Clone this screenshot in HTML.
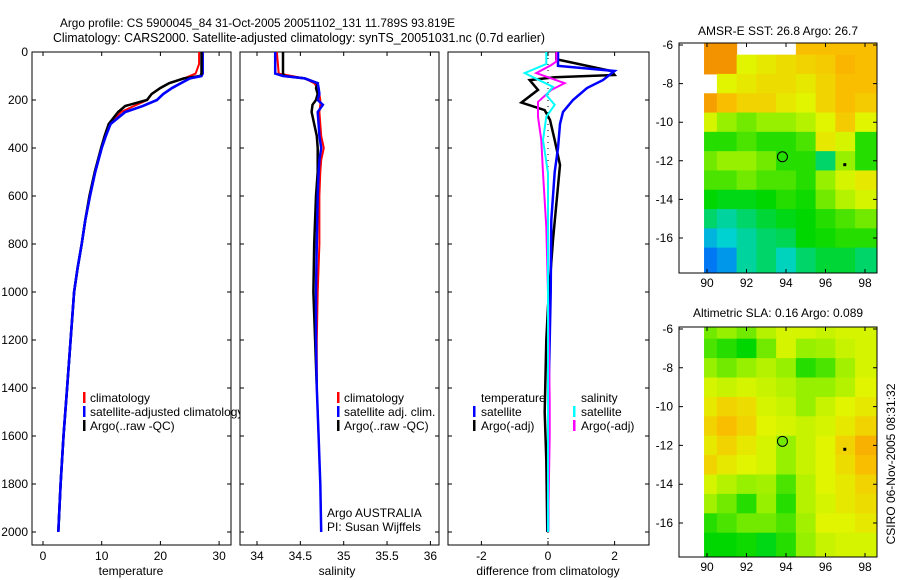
<!DOCTYPE html>
<html><head><meta charset="utf-8"><title>Argo profile</title>
<style>
html,body{margin:0;padding:0;background:#fff;}
svg{display:block;font-family:"Liberation Sans",sans-serif;}
text{font-size:12px;fill:#000;}
</style></head>
<body>
<svg id="fig" width="900" height="580" viewBox="0 0 900 580">
<rect x="0" y="0" width="900" height="580" fill="#fff"/>
<text x="60" y="27" style="font-size:12px" textLength="395" lengthAdjust="spacingAndGlyphs">Argo profile: CS 5900045_84 31-Oct-2005 20051102_131 11.789S 93.819E</text>
<text x="53" y="42" style="font-size:12.5px" textLength="492" lengthAdjust="spacingAndGlyphs">Climatology: CARS2000. Satellite-adjusted climatology: synTS_20051031.nc (0.7d earlier)</text>
<text x="778" y="35" text-anchor="middle">AMSR-E SST: 26.8 Argo: 26.7</text>
<text x="778" y="317" text-anchor="middle">Altimetric SLA: 0.16 Argo: 0.089</text>
<text transform="translate(895,464) rotate(-90)" text-anchor="middle">CSIRO 06-Nov-2005 08:31:32</text>
<defs>
<clipPath id="cp1"><rect x="32" y="52" width="199" height="493"/></clipPath>
<clipPath id="cp2"><rect x="240" y="52" width="199" height="493"/></clipPath>
<clipPath id="cp3"><rect x="448" y="52" width="201" height="493"/></clipPath>
<clipPath id="cm1"><rect x="679" y="43" width="198" height="230"/></clipPath>
<clipPath id="cm2"><rect x="679" y="327" width="198" height="230"/></clipPath>
</defs>
</svg>
<script>
// ---- temperature profile data ----
const tDepth = [0,50,90,100,110,130,150,175,200,225,250,300,350,400,500,600,700,800,900,1000,1200,1400,1600,1800,2000];
const tClim  = [26.6,26.6,26.0,25.0,24.0,21.5,20.0,18.5,17.8,15.5,13.3,11.4,10.6,9.9,8.8,7.9,7.2,6.6,5.9,5.3,4.7,4.1,3.5,3.0,2.6];
const tSat   = [27.2,27.2,27.2,27.0,25.0,23.5,22.0,20.5,19.4,17.0,14.0,11.5,10.7,10.0,8.9,8.0,7.2,6.6,5.9,5.3,4.7,4.1,3.5,3.0,2.6];
const tArgo  = [27.0,27.0,27.0,26.8,24.0,21.5,20.0,18.5,17.7,14.0,12.8,11.2,10.5,9.9,8.8,7.9,7.2,6.6,5.9,5.3,4.7,4.1,3.5,3.0,2.6];
// ---- salinity profile data ----
const sDepth = [0,90,100,110,130,150,175,200,220,250,300,350,400,450,500,600,800,1000,1200,1400,1600,1800,2000];
const sClim  = [34.23,34.25,34.40,34.55,34.66,34.70,34.72,34.73,34.73,34.72,34.73,34.74,34.77,34.74,34.73,34.72,34.72,34.70,34.69,34.69,34.71,34.72,34.74];
const sSat   = [34.21,34.21,34.30,34.55,34.70,34.71,34.72,34.70,34.76,34.70,34.71,34.72,34.74,34.72,34.71,34.70,34.69,34.68,34.68,34.69,34.71,34.73,34.74];
const sArgo  = [34.30,34.30,34.32,34.55,34.70,34.68,34.70,34.68,34.64,34.63,34.66,34.69,34.70,34.70,34.70,34.68,34.66,34.65,34.67,34.69,34.71,34.73,34.74];
// ---- difference data ----
const dTSatDepth = [0,58,79,117,150,200,250,300,400,500,700,1000,1400,2000];
const dTSat      = [0.3,0.3,2.0,1.65,1.17,0.75,0.45,0.36,0.3,0.2,0.1,0.08,0.02,0.0];
const dTArgoDepth = [0,30,79,96,105,117,158,211,242,283,367,471,783,1061,1200,1500,1700,2000];
const dTArgo      = [0.25,0.25,1.9,2.0,0.2,-0.55,-0.3,-0.8,-0.1,0.06,0.2,0.36,0.15,0.0,-0.05,-0.1,-0.05,-0.02];
const dSSatDepth = [0,50,88,105,145,179,220,270,367,504,1000,1500,2000];
const dSSat      = [-0.05,-0.05,-0.7,-0.45,0.15,-0.05,0.2,-0.05,-0.15,0.0,0.0,0.0,0.0];
const dSArgoDepth = [0,40,54,88,130,158,208,270,367,504,729,1000,1450,1600,2000];
const dSArgo      = [0.25,0.25,0.1,-0.35,0.5,0.1,-0.3,-0.3,-0.2,-0.15,-0.05,0.0,0.05,0.05,0.0];
// ---- axis ticks ----
const depthTicks = [0,200,400,600,800,1000,1200,1400,1600,1800,2000];
const tempTicks = [0,10,20,30];
const salTicks = [34,34.5,35,35.5,36];
const salTickLabels = ["34","34.5","35","35.5","36"];
const diffTicks = [-2,0,2];
const lonTicks = [90,92,94,96,98];
const latTicks = [-6,-8,-10,-12,-14,-16];
// ---- map grids (normalized colour values; rows lat -6..-17, cols lon 90..98) ----
const sstGrid = [
 [0.95,0.95,null,null,null,0.85,0.85,0.85,0.85],
 [0.95,0.95,0.72,0.75,0.78,0.8,0.82,0.87,0.85],
 [null,0.72,0.75,0.78,0.78,0.75,0.8,0.85,0.85],
 [0.92,0.85,0.8,0.8,0.75,0.72,0.8,0.85,0.82],
 [0.7,0.6,0.55,0.6,0.6,0.65,0.72,0.82,0.72],
 [0.45,0.45,0.5,0.45,0.45,0.5,0.75,0.7,0.45],
 [0.55,0.6,0.6,0.55,0.45,0.45,0.3,0.6,0.45],
 [0.5,0.5,0.55,0.5,0.5,0.45,0.6,0.7,0.75],
 [0.4,0.38,0.38,0.4,0.45,0.42,0.55,0.65,0.7],
 [0.3,0.25,0.3,0.35,0.38,0.4,0.45,0.5,0.55],
 [0.15,0.2,0.25,0.3,0.32,0.4,0.42,0.45,0.45],
 [0.05,0.1,0.25,0.3,0.22,0.3,0.35,0.35,0.3]];
const slaGrid = [
 [0.55,0.6,0.55,0.65,0.7,0.7,0.68,0.7,0.7],
 [0.5,0.45,0.4,0.55,0.7,0.6,0.62,0.68,0.7],
 [0.6,0.55,0.6,0.65,0.6,0.45,0.5,0.62,0.7],
 [0.7,0.68,0.7,0.68,0.65,0.6,0.6,0.65,0.72],
 [0.75,0.8,0.78,0.7,0.68,0.6,0.68,0.72,0.75],
 [0.8,0.85,0.8,0.72,0.7,0.68,0.7,0.75,0.8],
 [0.75,0.8,0.75,0.7,0.6,0.68,0.72,0.8,0.88],
 [0.8,0.75,0.72,0.7,0.6,0.68,0.72,0.78,0.85],
 [0.7,0.65,0.6,0.62,0.5,0.65,0.72,0.75,0.8],
 [0.62,0.55,0.45,0.6,0.45,0.65,0.7,0.75,0.78],
 [0.45,0.5,0.55,0.55,0.5,0.62,0.72,0.72,0.75],
 [0.4,0.4,0.42,0.38,0.45,0.6,0.68,0.7,0.7]];
const gridLon0 = 90, gridLat0 = -6;
const argoLon = 93.82, argoLat = -11.79;
const sstArgoVal = 0.5, slaArgoVal = 0.55;

const NS='http://www.w3.org/2000/svg';
const svg=document.getElementById('fig');
function el(tag,attrs,parent){const e=document.createElementNS(NS,tag);for(const k in attrs)e.setAttribute(k,attrs[k]);(parent||svg).appendChild(e);return e;}

const yD = d => 52 + d*0.24;
const xT = v => 43 + v*5.87;
const xS = v => 257 + (v-34)*86.7;
const xDf = v => 548 + v*33.3;
const xLon = l => 707 + (l-90)*19.75;
const yLat1 = l => 45 + (-6-l)*19.3;
const yLat2 = l => 329 + (-6-l)*19.4;

function line(xs,ds,xf,color,w,clip,name){
  const pts=xs.map((v,i)=>xf(v).toFixed(1)+','+yD(ds[i]).toFixed(1)).join(' ');
  const p=el('polyline',{points:pts,fill:'none',stroke:color,'stroke-width':w,'clip-path':'url(#'+clip+')','stroke-linejoin':'miter'});
  
  
}
function panel(x0,x1,name){
  const r=el('rect',{x:x0,y:52,width:x1-x0,height:493,fill:'#fff',stroke:'#000','stroke-width':1});
  
  
  depthTicks.forEach(d=>{
    const y=yD(d);
    const t=el('path',{d:`M${x0} ${y}h4M${x1} ${y}h-4`,stroke:'#000','stroke-width':1});
    
    
  });
}
function xticks(vals,labels,xf,name){
  vals.forEach((v,i)=>{
    const x=xf(v);
    const t=el('path',{d:`M${x} 545v-4M${x} 52v4`,stroke:'#000','stroke-width':1});
    
    
    const tx=el('text',{x:x,y:560,'text-anchor':'middle'});tx.textContent=labels[i];
    
    
  });
}
function txt(x,y,s,name,anchor){const t=el('text',{x:x,y:y,'text-anchor':anchor||'start'});t.textContent=s;
  
  
  return t;}
function mark(x,y,color,name){const m=el('rect',{x:x,y:y-10,width:2.5,height:11,fill:color});
  
  }

// Panel 1: temperature
panel(32,231,'temperature-axes');
depthTicks.forEach(d=>txt(28,yD(d)+4,String(d),'depth-tick-label','end'));
xticks(tempTicks,tempTicks.map(String),xT,'temperature-tick-label');
txt(131,575,'temperature','temperature-axis-title','middle');
line(tClim,tDepth,xT,'#f00',2,'cp1','temperature-climatology-line');
line(tSat,tDepth,xT,'#00f',2.5,'cp1','temperature-satellite-line');
line(tArgo,tDepth.slice(0,tArgo.length),xT,'#000',2.5,'cp1','temperature-argo-line');
line(tSat.slice(3),tDepth.slice(3),xT,'#00f',2.5,'cp1','temperature-satellite-line-top');
mark(83,402,'#f00','legend-marker-climatology');txt(90,402,'climatology','legend-climatology');
mark(83,416,'#00f','legend-marker-satellite');txt(90,416,'satellite-adjusted climatology','legend-satellite-adjusted');
mark(83,430,'#000','legend-marker-argo');txt(90,430,'Argo(..raw -QC)','legend-argo');

// Panel 2: salinity
panel(240,439,'salinity-axes');
xticks(salTicks,salTickLabels,xS,'salinity-tick-label');
txt(337,575,'salinity','salinity-axis-title','middle');
line(sClim.slice(0,21),sDepth.slice(0,21),xS,'#f00',2,'cp2','salinity-climatology-line');
line(sArgo.slice(0,20),sDepth.slice(0,20),xS,'#000',2.5,'cp2','salinity-argo-line');
line(sSat,sDepth,xS,'#00f',2.5,'cp2','salinity-satellite-line');
mark(337,402,'#f00','legend-marker-climatology');txt(344,402,'climatology','legend-climatology');
mark(337,416,'#00f','legend-marker-satellite');txt(344,416,'satellite adj. clim.','legend-satellite-adj-clim');
mark(337,430,'#000','legend-marker-argo');txt(344,430,'Argo(..raw -QC)','legend-argo');
txt(327,517,'Argo AUSTRALIA','argo-country-label');
txt(327,531,'PI: Susan Wijffels','pi-label');

// Panel 3: difference
panel(448,649,'difference-axes');
xticks(diffTicks,diffTicks.map(String),xDf,'difference-tick-label');
txt(548,575,'difference from climatology','difference-axis-title','middle');
const zl=el('line',{x1:xDf(0),x2:xDf(0),y1:52,y2:545,stroke:'#000','stroke-width':1,'stroke-dasharray':'1 5'});


line(dTArgo,dTArgoDepth,xDf,'#000',2.5,'cp3','diff-temperature-argo-line');
line(dTSat,dTSatDepth,xDf,'#00f',2.5,'cp3','diff-temperature-satellite-line');
line(dSArgo,dSArgoDepth,xDf,'#f0f',2,'cp3','diff-salinity-argo-line');
line(dSSat,dSSatDepth,xDf,'#0ff',2,'cp3','diff-salinity-satellite-line');
txt(481,402,'temperature','legend-temperature-heading');
mark(473,416,'#00f','legend-marker-temp-satellite');txt(481,416,'satellite','legend-temp-satellite');
mark(473,430,'#000','legend-marker-temp-argo');txt(481,430,'Argo(-adj)','legend-temp-argo');
txt(581,402,'salinity','legend-salinity-heading');
mark(573,416,'#0ff','legend-marker-sal-satellite');txt(581,416,'satellite','legend-sal-satellite');
mark(573,430,'#f0f','legend-marker-sal-argo');txt(581,430,'Argo(-adj)','legend-sal-argo');

// Maps
const stops=[[0,[0,90,255]],[0.2,[0,210,210]],[0.4,[0,215,0]],[0.6,[150,240,0]],[0.72,[225,245,0]],[0.85,[250,190,0]],[1,[240,125,0]]];
function cmap(v){for(let i=1;i<stops.length;i++){if(v<=stops[i][0]){const a=stops[i-1],b=stops[i];const f=(v-a[0])/(b[0]-a[0]);const c=a[1].map((q,k)=>Math.round(q+(b[1][k]-q)*f));return `rgb(${c[0]},${c[1]},${c[2]})`;}}return 'rgb(240,125,0)';}
function map(grid,yLat,top,clip,name,argoVal){
  const g=el('g',{'clip-path':'url(#'+clip+')'});
  
  
  grid.forEach((row,j)=>row.forEach((v,i)=>{
    if(v===null)return;
    const lon=gridLon0+i, lat=gridLat0-j;
    const xa=Math.max(xLon(lon-0.5),xLon(89.85)), xb=xLon(lon+0.5)+(i===row.length-1?20:0);
    const ya=yLat(lat+0.5)-(j===0?20:0), yb=yLat(lat-0.5)+(j===grid.length-1?20:0);
    const c=el('rect',{x:xa,y:ya,width:xb-xa+0.5,height:yb-ya+0.5,fill:cmap(v)},g);
    
    
  }));
  const fr=el('rect',{x:679,y:top,width:198,height:230,fill:'none',stroke:'#000','stroke-width':1});
  
  
  lonTicks.forEach(l=>{const x=xLon(l);
    const t=el('path',{d:`M${x} ${top}v4M${x} ${top+230}v-4`,stroke:'#000'});
    
    
    txt(x,top+244,String(l),'lon-tick-label','middle');});
  latTicks.forEach(l=>{const y=yLat(l);
    const t=el('path',{d:`M679 ${y}h4M877 ${y}h-4`,stroke:'#000'});
    
    
    txt(673,y+4,String(l),'lat-tick-label','end');});
  const ci=el('circle',{cx:xLon(argoLon),cy:yLat(argoLat),r:5,fill:argoVal===null?'none':cmap(argoVal),stroke:'#000','stroke-width':1});
  
  
  const dt=el('rect',{x:xLon(96.9),y:yLat(-12.2)-1.5,width:3,height:3,fill:'#000'});
  
  
}
map(sstGrid,yLat1,43,'cm1','sst-map',null);
map(slaGrid,yLat2,327,'cm2','sla-map',slaArgoVal);
</script>
</body></html>
